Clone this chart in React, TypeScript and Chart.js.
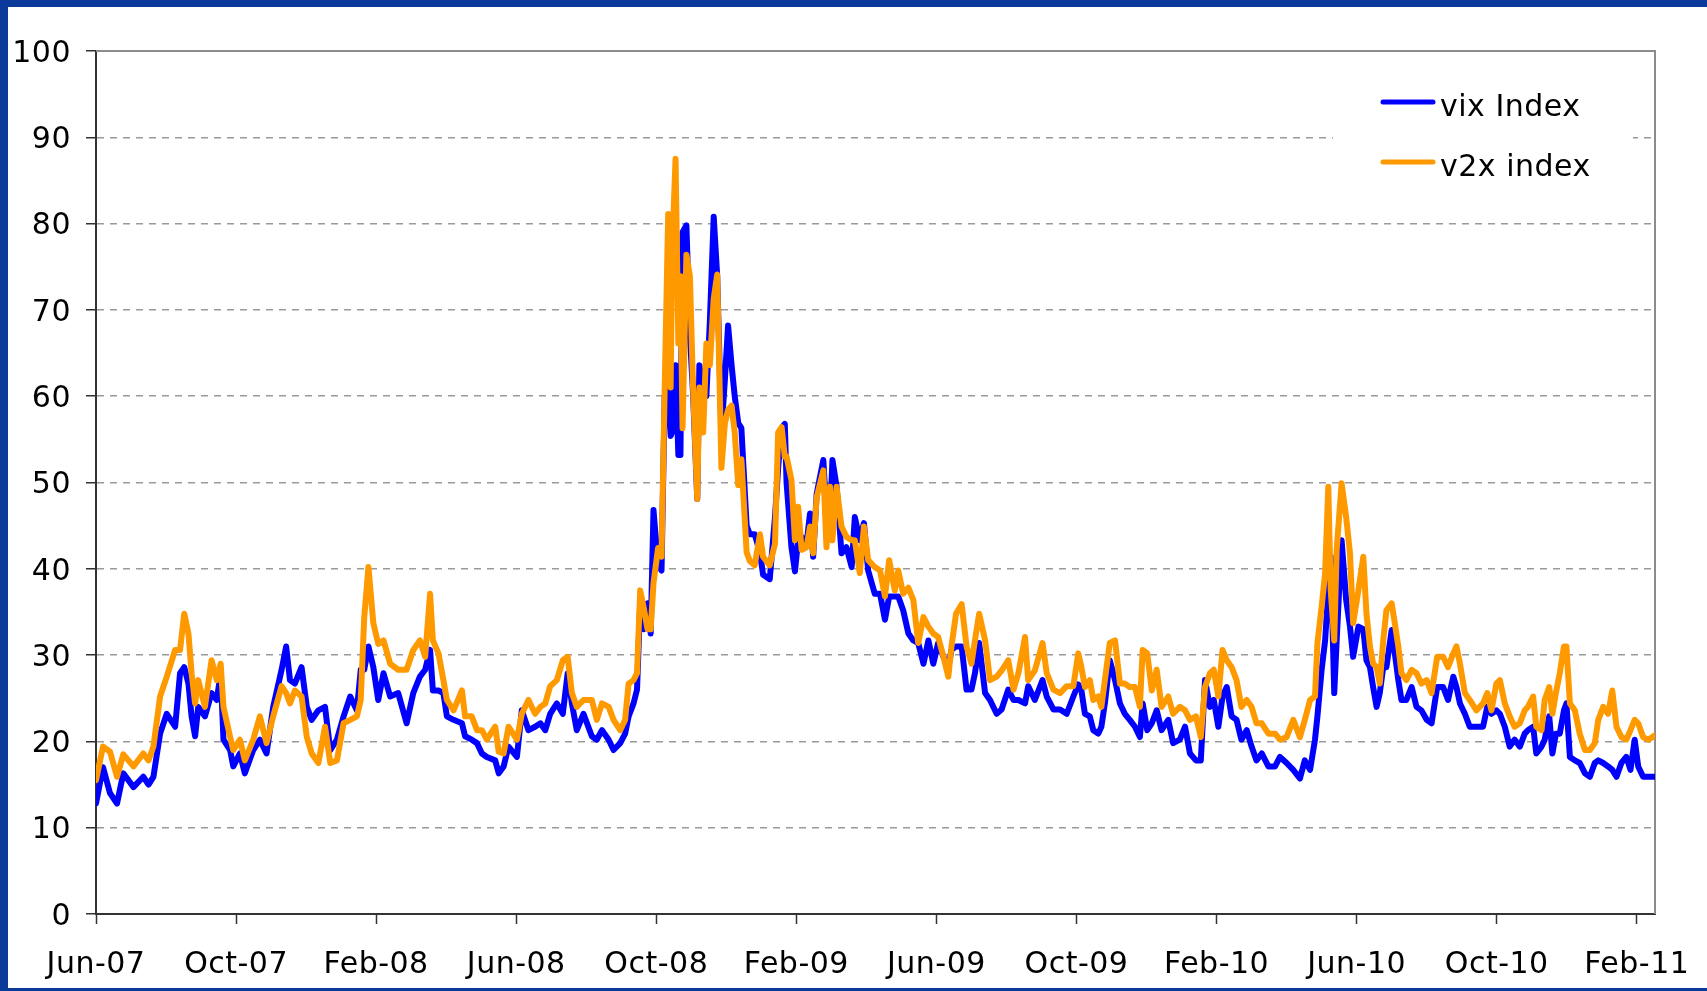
import { useEffect, useRef } from 'react';
import { Chart, registerables } from 'chart.js';

Chart.register(...registerables);

// x position of each observation, in months since the start of June 2007
const months = [
  0, 0.2, 0.4, 0.6, 0.78, 1.07, 1.35, 1.5, 1.64, 1.83, 2.02, 2.26, 2.4, 2.52, 2.64, 2.73, 2.83, 2.92, 3.11, 3.3, 3.45, 3.56, 3.64, 3.83, 3.92, 4.11, 4.25, 4.49, 4.68, 4.87, 5.06, 5.3, 5.43, 5.54, 5.68, 5.87, 6.02, 6.16, 6.35, 6.54, 6.69, 6.88, 7.07, 7.26, 7.45, 7.56, 7.66, 7.78, 7.92, 8.06, 8.21, 8.4, 8.63, 8.87, 9.06, 9.25,
  9.4, 9.54, 9.62, 9.78, 9.92, 10.02, 10.21, 10.45, 10.54, 10.73, 10.88, 11.02, 11.16, 11.4, 11.5, 11.64, 11.78, 12.02, 12.16, 12.35, 12.54, 12.69, 12.83, 12.97, 13.16, 13.33, 13.47, 13.59, 13.73, 13.92, 14.16, 14.3, 14.45, 14.64, 14.78, 14.97, 15.11, 15.21, 15.35, 15.45,
  15.54, 15.64, 15.75, 15.84, 15.92, 16.05, 16.15, 16.24, 16.34, 16.41, 16.45, 16.55, 16.63, 16.69, 16.75, 16.86, 16.96, 17.05, 17.17, 17.23, 17.34, 17.43, 17.53, 17.64, 17.74, 17.86, 17.96, 18.05, 18.15, 18.24, 18.34, 18.43, 18.58, 18.67, 18.81, 18.96, 19.05, 19.24, 19.39, 19.48,
  19.58, 19.67, 19.72, 19.86, 19.96, 20.05, 20.15, 20.29, 20.39, 20.48, 20.58, 20.77, 20.86, 20.96, 21.03, 21.15, 21.29, 21.43, 21.58, 21.67, 21.81, 21.93, 22.05, 22.24, 22.39, 22.53, 22.65, 22.81, 22.91, 23.05, 23.2, 23.34, 23.48, 23.63, 23.77, 23.91, 24.05, 24.2, 24.34, 24.43, 24.56, 24.72, 24.86, 25.0, 25.1, 25.22, 25.39, 25.53, 25.72, 25.86, 26.05, 26.2, 26.34, 26.53, 26.62, 26.81, 27.03, 27.15, 27.34, 27.53, 27.72, 27.91, 28.05,
  28.14, 28.24, 28.38, 28.48, 28.62, 28.71, 28.81, 28.95, 29.1, 29.24, 29.38, 29.52, 29.67, 29.81, 29.89, 30.02, 30.15, 30.29, 30.43, 30.62, 30.76, 30.95, 31.1, 31.24, 31.41, 31.55, 31.67, 31.81, 31.92, 32.05, 32.17, 32.29, 32.43, 32.57, 32.71, 32.86, 33.0, 33.14, 33.29, 33.48, 33.67, 33.81, 34.0, 34.19, 34.38, 34.52, 34.67, 34.81, 34.88, 35.0, 35.1, 35.19, 35.26, 35.36, 35.43, 35.57, 35.7, 35.81, 35.9, 36.05,
  36.19, 36.28, 36.38, 36.47, 36.57, 36.66, 36.76, 36.85, 37.0, 37.09, 37.19, 37.28, 37.42, 37.57, 37.71, 37.85, 38.0, 38.14, 38.3, 38.47, 38.61, 38.76, 38.85, 38.95, 39.09, 39.23, 39.42, 39.61, 39.73, 39.85, 39.99, 40.09, 40.23, 40.37, 40.51, 40.66, 40.8, 40.89, 41.04, 41.13, 41.28, 41.37, 41.5, 41.59, 41.69, 41.8, 41.92, 41.99, 42.09, 42.23, 42.37, 42.52, 42.66, 42.8, 42.9, 43.04, 43.18, 43.3, 43.42, 43.56, 43.7, 43.82, 43.94, 44.04, 44.18, 44.33, 44.52,
];

const vix = [
  12.8, 17, 14, 12.8, 16.3, 14.7, 15.9, 15, 15.9, 20.9, 23.2, 21.7, 27.9, 28.6, 26.7, 22.9, 20.6, 24, 22.9, 25.6, 24.8, 27.9, 20.2, 19, 17.1, 18.6, 16.3, 19, 20.2, 18.6, 24, 28.3, 31, 27.1, 26.7, 28.6, 24, 22.5, 23.6, 24, 19, 20.2, 22.9, 25.2, 23.6, 28.3, 28.3, 31, 28.6, 24.8, 27.9, 25.2, 25.6, 22.1, 25.6, 27.5,
  28.3, 30.6, 25.9, 25.9, 25.6, 22.9, 22.5, 22.1, 20.6, 20.2, 19.8, 18.6, 18.2, 17.8, 16.3, 17.1, 19.4, 18.2, 23.6, 21.3, 21.7, 22.1, 21.3, 23.2, 24.4, 23.2, 27.9, 24.4, 21.3, 23.2, 20.6, 20.2, 21.3, 20.2, 19, 19.8, 20.9, 22.9, 24.4, 26,
  36, 33, 36, 32.5, 46.8, 40.4, 39.8, 60, 61, 55.4, 55.8, 63.6, 53.2, 53.2, 79, 79.8, 67, 60.3, 48.1, 63.6, 61, 60, 68.7, 80.8, 73.9, 55.8, 62, 68.2, 63.6, 60, 56.9, 56.3, 45, 44, 44, 41.9, 39.3, 38.8, 46, 51.7,
  56.3, 56.8, 50, 42.5, 39.7, 43.3, 43.7, 42.9, 46.4, 41.4, 48.7, 52.6, 46.4, 45.6, 52.6, 49.5, 41.8, 42.5, 40.2, 46, 43.3, 45.3, 39.8, 37.1, 37.1, 34.1, 36.8, 36.8, 36.8, 35.2, 32.5, 31.7, 31.4, 29, 31.7, 29, 31.4, 29.8, 28.6, 30.6, 31, 31, 26, 26, 27.9, 31.4, 25.6, 24.8, 23.2, 23.7, 26, 24.8, 24.8, 24.4, 26.4, 24.8, 27.1, 25.2, 23.7, 23.7, 23.2, 25.2, 26.6,
  25.9, 23.2, 22.9, 21.3, 20.9, 21.7, 24.4, 29.4, 27.1, 24.4, 23.2, 22.5, 21.7, 20.5, 24.4, 21.3, 22.1, 23.6, 21.3, 22.5, 19.8, 20.2, 21.7, 18.6, 17.8, 17.8, 27.1, 24, 24.8, 21.7, 25.2, 26.3, 22.9, 22.5, 20.2, 21.3, 19.4, 17.8, 18.6, 17.1, 17.1, 18.2, 17.5, 16.7, 15.7, 17.8, 16.7, 20.2, 22.9, 28.3, 31.7, 37.5, 41.4, 25.6, 31.7, 43.3, 36.4, 33.3, 29.8, 33.3,
  33, 29.4, 28.6, 26.3, 24, 25.6, 28.6, 28.6, 32.9, 30.2, 27.1, 24.8, 24.8, 26.3, 24, 23.6, 22.5, 22.1, 26.3, 26.3, 24.8, 27.5, 26.3, 24.4, 23.2, 21.7, 21.7, 21.7, 24, 23.2, 23.6, 23.2, 21.7, 19.4, 20.2, 19.4, 20.9, 21.3, 21.7, 18.6, 19.4, 20.2, 22.9, 18.6, 20.9, 20.9, 23.6, 24.4, 18.2, 17.8, 17.5, 16.3, 15.9, 17.5, 17.8, 17.5, 17.1, 16.7, 15.9, 17.5, 18.2, 16.7, 20.2, 17.1, 15.9, 15.9, 15.9,
];

const v2x = [
  15.5, 19.4, 18.8, 15.9, 18.5, 17.1, 18.6, 17.8, 19.4, 25.2, 27.5, 30.6, 30.6, 34.8, 32.5, 27.9, 24.4, 27.1, 24, 29.4, 27.1, 29, 24, 20.5, 19, 20.2, 17.8, 20.2, 22.9, 19.8, 22.9, 26.4, 25.6, 24.4, 25.9, 25.2, 20.5, 18.6, 17.5, 21.7, 17.5, 17.8, 22.1, 22.5, 22.9, 24.8, 34.4, 40.2, 33.7, 31.3, 31.7, 29, 28.3, 28.3, 30.6, 31.7,
  29.8, 37.1, 31.7, 30.2, 27.1, 24.8, 23.6, 25.9, 22.9, 22.9, 21.3, 21.3, 20.2, 21.7, 18.8, 18.6, 21.7, 20.2, 23.2, 24.8, 23.2, 24, 24.4, 26.4, 27.1, 29.4, 29.8, 25.6, 24, 24.8, 24.8, 22.5, 24.4, 24, 22.5, 21.3, 22.5, 26.7, 27.1, 27.9,
  37.5, 35.5, 33, 33, 38.3, 42.4, 41.4, 61, 81.1, 61, 76.4, 87.5, 66.1, 73.9, 56.3, 76.4, 73.9, 61, 48.1, 61, 55.8, 66.1, 63.6, 71.3, 74.1, 51.7, 56.9, 58.4, 58.9, 55.8, 49.7, 52.7, 41.9, 40.9, 40.4, 44, 41.4, 40.4, 42.9, 55.8,
  56.4, 53, 53, 50.3, 43.3, 47.2, 42.2, 42.5, 44.9, 41.8, 48.3, 51.4, 42.5, 49.5, 43.3, 49.5, 44.9, 43.7, 43.3, 43.3, 39.5, 44.9, 41, 40.2, 39.8, 36.8, 41, 37.5, 39.8, 37.1, 37.8, 36.4, 31.4, 34.4, 33.3, 32.5, 32.1, 29.8, 27.5, 31, 34.8, 35.9, 31, 29, 31.7, 34.8, 31.7, 27.1, 27.5, 28.2, 29.4, 26, 27.9, 32.1, 27.1, 28.2, 31.4, 27.9, 26, 25.6, 26.4, 26.4, 30.2,
  28.6, 26.3, 27.1, 24.8, 25.2, 24, 27.1, 31.4, 31.7, 26.7, 26.7, 26.3, 26.3, 24, 30.6, 30.2, 25.9, 28.3, 24, 25.2, 23.2, 24, 23.6, 22.5, 22.9, 20.5, 26.3, 27.9, 28.3, 25.2, 30.6, 29.4, 28.6, 27.1, 24, 24.8, 24, 22.1, 22.1, 20.9, 20.9, 20.2, 20.5, 22.5, 20.5, 22.5, 24.8, 25.2, 31.4, 35.6, 39.5, 49.5, 37.5, 31.7, 42.2, 49.9, 46, 41.8, 33.7, 37.5,
  41.4, 34.8, 31, 29, 28.6, 26.7, 31.7, 35.2, 36, 33.7, 31, 27.9, 27.1, 28.3, 27.9, 26.7, 27.1, 25.6, 29.8, 29.8, 28.6, 30.2, 31, 29, 25.6, 24.8, 23.6, 24.4, 25.6, 23.6, 26.7, 27.1, 24.4, 22.9, 21.7, 22.1, 23.6, 24, 25.2, 21.7, 21.3, 24.8, 26.3, 23.2, 25.6, 27.9, 31, 31, 24.4, 23.6, 20.9, 19, 19, 19.8, 22.5, 24, 23.2, 25.9, 21.7, 20.5, 20.2, 21.3, 22.5, 22.1, 20.5, 20.2, 20.7,
];

const seriesLabels = ['vix Index', 'v2x index'];
const xTickMonths = [0, 4, 8, 12, 16, 20, 24, 28, 32, 36, 40, 44];
const xTickLabels = ['Jun-07', 'Oct-07', 'Feb-08', 'Jun-08', 'Oct-08', 'Feb-09', 'Jun-09', 'Oct-09', 'Feb-10', 'Jun-10', 'Oct-10', 'Feb-11'];
const xMax = 44.52;
const yMin = 0;
const yMax = 100;
const yStep = 10;

const FONT = '"DejaVu Sans", Verdana, sans-serif';
const BLUE = '#0000ff';
const ORANGE = '#ff9900';

const framePlugin = {
  id: 'frame',
  beforeLayout(chart: any) {
    chart.ctx.letterSpacing = '0.5px';
  },
  beforeDraw(chart: any) {
    chart.ctx.letterSpacing = '0.5px';
  },
  beforeDatasetsDraw(chart: any) {
    const { ctx, chartArea: a } = chart;
    ctx.save();
    ctx.setLineDash([]);
    ctx.strokeStyle = '#8c8c8c';
    ctx.lineWidth = 2;
    ctx.beginPath();
    ctx.moveTo(a.left, a.top);
    ctx.lineTo(a.right, a.top);
    ctx.lineTo(a.right, a.bottom);
    ctx.stroke();
    ctx.restore();
  },
  afterDraw(chart: any) {
    const { ctx, chartArea: a } = chart;
    ctx.save();
    ctx.fillStyle = '#ffffff';
    ctx.fillRect(a.right - 322, a.top + 11, 300, 138);
    const colors = [BLUE, ORANGE];
    seriesLabels.forEach((label, i) => {
      const y = a.top + 51 + i * 60;
      ctx.strokeStyle = colors[i];
      ctx.lineWidth = 5;
      ctx.lineCap = 'round';
      ctx.beginPath();
      ctx.moveTo(a.right - 272, y);
      ctx.lineTo(a.right - 222, y);
      ctx.stroke();
      ctx.fillStyle = '#000000';
      ctx.font = '30px ' + FONT;
      ctx.letterSpacing = '0.5px';
      ctx.textAlign = 'left';
      ctx.textBaseline = 'alphabetic';
      ctx.fillText(label, a.right - 215, y + 14);
    });
    ctx.restore();
  },
};

export default function App() {
  const ref = useRef<HTMLCanvasElement>(null);

  useEffect(() => {
    const canvas = ref.current;
    if (!canvas) return;
    const chart = new Chart(canvas, {
      type: 'line',
      data: {
        datasets: [
          {
            label: seriesLabels[0],
            data: months.map((m, i) => ({ x: m, y: vix[i] })),
            borderColor: BLUE,
            backgroundColor: BLUE,
            borderWidth: 6,
            pointRadius: 0,
            tension: 0,
            borderJoinStyle: 'round',
            borderCapStyle: 'round',
            order: 1,
          },
          {
            label: seriesLabels[1],
            data: months.map((m, i) => ({ x: m, y: v2x[i] })),
            borderColor: ORANGE,
            backgroundColor: ORANGE,
            borderWidth: 6,
            pointRadius: 0,
            tension: 0,
            borderJoinStyle: 'round',
            borderCapStyle: 'round',
            order: 0,
          },
        ],
      },
      options: {
        animation: false,
        responsive: false,
        devicePixelRatio: 1,
        layout: { padding: { left: 0, right: 52, top: 44, bottom: 0 } },
        plugins: {
          legend: { display: false },
          tooltip: { enabled: false },
        },
        scales: {
          x: {
            type: 'linear',
            min: 0,
            max: xMax,
            afterBuildTicks: (s: any) => {
              s.ticks = xTickMonths.map((v) => ({ value: v }));
            },
            afterFit: (s: any) => {
              s.height = 74;
              s.paddingLeft = 0;
              s.paddingRight = 0;
            },
            ticks: {
              callback: (_v: any, i: number) => xTickLabels[i],
              font: { family: FONT, size: 30 },
              color: '#000000',
              padding: 23,
              maxRotation: 0,
              autoSkip: false,
            },
            grid: {
              drawOnChartArea: false,
              drawTicks: true,
              tickLength: 10,
              tickColor: '#333333',
              tickWidth: 1.5,
            },
            border: { color: '#333333', width: 2 },
          },
          y: {
            min: yMin,
            max: yMax,
            afterFit: (s: any) => {
              s.width = 88;
            },
            ticks: {
              stepSize: yStep,
              font: { family: FONT, size: 30 },
              color: '#000000',
              padding: 15,
              labelOffset: 3,
            },
            grid: {
              color: '#9a9a9a',
              lineWidth: 1.5,
              drawTicks: true,
              tickLength: 10,
              tickColor: '#333333',
              tickWidth: 1.5,
            },
            border: { color: '#333333', width: 2, dash: [7, 6] },
          },
        },
      },
      plugins: [framePlugin],
    } as any);
    return () => chart.destroy();
  }, []);

  return (
    <div style={{ position: 'fixed', left: 0, top: 0, width: 1707, height: 991, background: '#0b3a9a', overflow: 'hidden' }}>
      <div style={{ position: 'absolute', left: 8, top: 7, width: 1699, height: 981, background: '#ffffff' }}>
        <canvas ref={ref} width={1699} height={981} style={{ display: 'block', width: 1699, height: 981 }} />
      </div>
    </div>
  );
}
